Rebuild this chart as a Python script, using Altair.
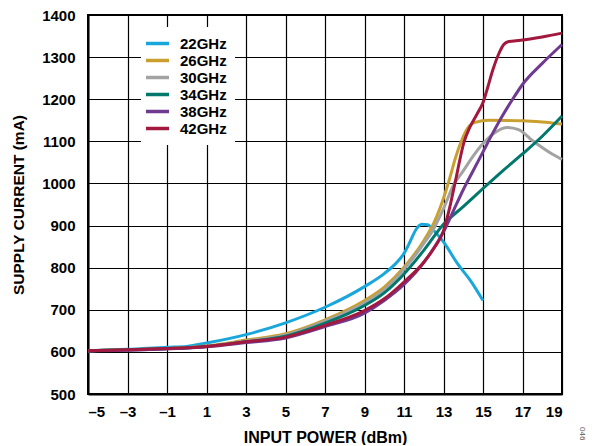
import altair as alt
import pandas as pd

# ---- data ----
series_names = ["22GHz", "26GHz", "30GHz", "34GHz", "38GHz", "42GHz"]
series_colors = ["#19A7DB", "#C9A02F", "#A3A3A3", "#00786C", "#6F3A8F", "#A3183F"]

x_22 = [-5, -3, -1, 0, 1, 3, 5, 7, 9, 10, 10.5, 11, 11.3, 11.6, 11.9, 12.2, 12.5, 13, 13.7, 14.4, 15]
y_22 = [603, 606, 611, 613, 621, 641, 669, 706, 755, 786, 806, 834, 861, 890, 903, 902, 889, 861, 810, 767, 722]

x_26 = [-5, -3, -1, 1, 3, 5, 7, 9, 10, 11, 12, 12.5, 13, 13.3, 13.6, 13.9, 14.2, 14.6, 15.3, 17, 18, 19]
y_26 = [603, 605, 608, 614, 628, 643, 676, 722, 754, 801, 864, 905, 965, 1010, 1060, 1100, 1130, 1145, 1150, 1149, 1146, 1141]

x_30 = [-5, -3, -1, 1, 3, 5, 7, 9, 10, 11, 12, 12.5, 13, 13.5, 14, 14.5, 15, 15.5, 16.2, 16.8, 17.5, 18.5, 19]
y_30 = [603, 605, 608, 613, 626, 640, 673, 716, 747, 796, 857, 892, 940, 995, 1030, 1065, 1095, 1117, 1133, 1128, 1102, 1070, 1057]

x_34 = [-5, -3, -1, 1, 3, 5, 7, 9, 10, 11, 12, 13, 14, 15, 16, 17, 18, 19]
y_34 = [603, 605, 608, 613, 624, 637, 668, 710, 740, 785, 841, 903, 945, 988, 1030, 1070, 1112, 1160]

x_38 = [-5, -3, -1, 1, 3, 5, 7, 9, 10, 11, 12, 12.5, 13, 13.5, 14, 14.5, 15, 15.5, 16, 16.5, 17, 18, 19]
y_38 = [602, 604, 607, 612, 622, 633, 660, 692, 722, 760, 812, 846, 885, 935, 985, 1030, 1075, 1120, 1162, 1200, 1235, 1285, 1330]

x_42 = [-5, -3, -1, 1, 3, 5, 7, 9, 10, 11, 12, 12.5, 13, 13.3, 13.6, 14.05, 14.3, 14.7, 15.0, 15.2, 15.5, 15.8, 16.05, 16.3, 16.9, 18, 19]
y_42 = [603, 605, 608, 613, 624, 635, 663, 698, 726, 766, 813, 845, 888, 940, 1005, 1100, 1130, 1165, 1192, 1222, 1270, 1308, 1330, 1337, 1340, 1348, 1357]

x_ticks = list(range(-5, 20, 2))
y_ticks = list(range(500, 1401, 100))

rows = []
for name, xs, ys in zip(series_names,
                        [x_22, x_26, x_30, x_34, x_38, x_42],
                        [y_22, y_26, y_30, y_34, y_38, y_42]):
    for i, (a, b) in enumerate(zip(xs, ys)):
        rows.append({"series": name, "power": a, "current": b, "order": i})
df = pd.DataFrame(rows)

FONT = "Liberation Sans"

lines = alt.Chart(df).mark_line(strokeWidth=3, interpolate="monotone").encode(
    x=alt.X("power:Q",
            scale=alt.Scale(domain=[-5, 19], nice=False, zero=False),
            axis=alt.Axis(values=x_ticks, title="INPUT POWER (dBm)",
                          labelExpr="datum.value < 0 ? '–' + abs(datum.value) : datum.label",
                          labelPadding=10, titlePadding=10, titleFontSize=16)),
    y=alt.Y("current:Q",
            scale=alt.Scale(domain=[500, 1400], nice=False, zero=False),
            axis=alt.Axis(values=y_ticks, title="SUPPLY CURRENT (mA)", format="d",
                          labelPadding=13, titlePadding=15, titleFontSize=15.5)),
    color=alt.Color("series:N",
                    scale=alt.Scale(domain=series_names, range=series_colors),
                    legend=alt.Legend(title=None, orient="none", legendX=53, legendY=12,
                                      symbolType="M-1.77,0H1.77", symbolStrokeWidth=3.5,
                                      symbolSize=169, labelFontSize=15, labelFont=FONT,
                                      labelFontWeight="bold", labelColor="black",
                                      fillColor="white", padding=8, rowPadding=0,
                                      labelOffset=14)),
    order="order:Q",
    detail="series:N",
)

tag = alt.Chart(pd.DataFrame({"t": ["046"]})).mark_text(
    angle=90, fontSize=8, color="#555555", font=FONT, align="left", baseline="middle"
).encode(x=alt.value(494), y=alt.value(412), text="t:N")

chart = alt.layer(lines, tag).properties(
    width=474, height=379,
    padding={"left": 3, "top": 0, "right": 0, "bottom": 0},
).configure_view(
    stroke="black", strokeWidth=2
).configure_axis(
    grid=True, gridColor="black", gridWidth=1.2, gridOpacity=1,
    domainColor="black", domainWidth=2, ticks=False,
    labelFont=FONT, labelFontSize=15, labelFontWeight="bold", labelColor="black",
    titleFont=FONT, titleFontWeight="bold", titleColor="black",
)

chart.save("out.html", embed_options={"renderer": "svg", "actions": False})
